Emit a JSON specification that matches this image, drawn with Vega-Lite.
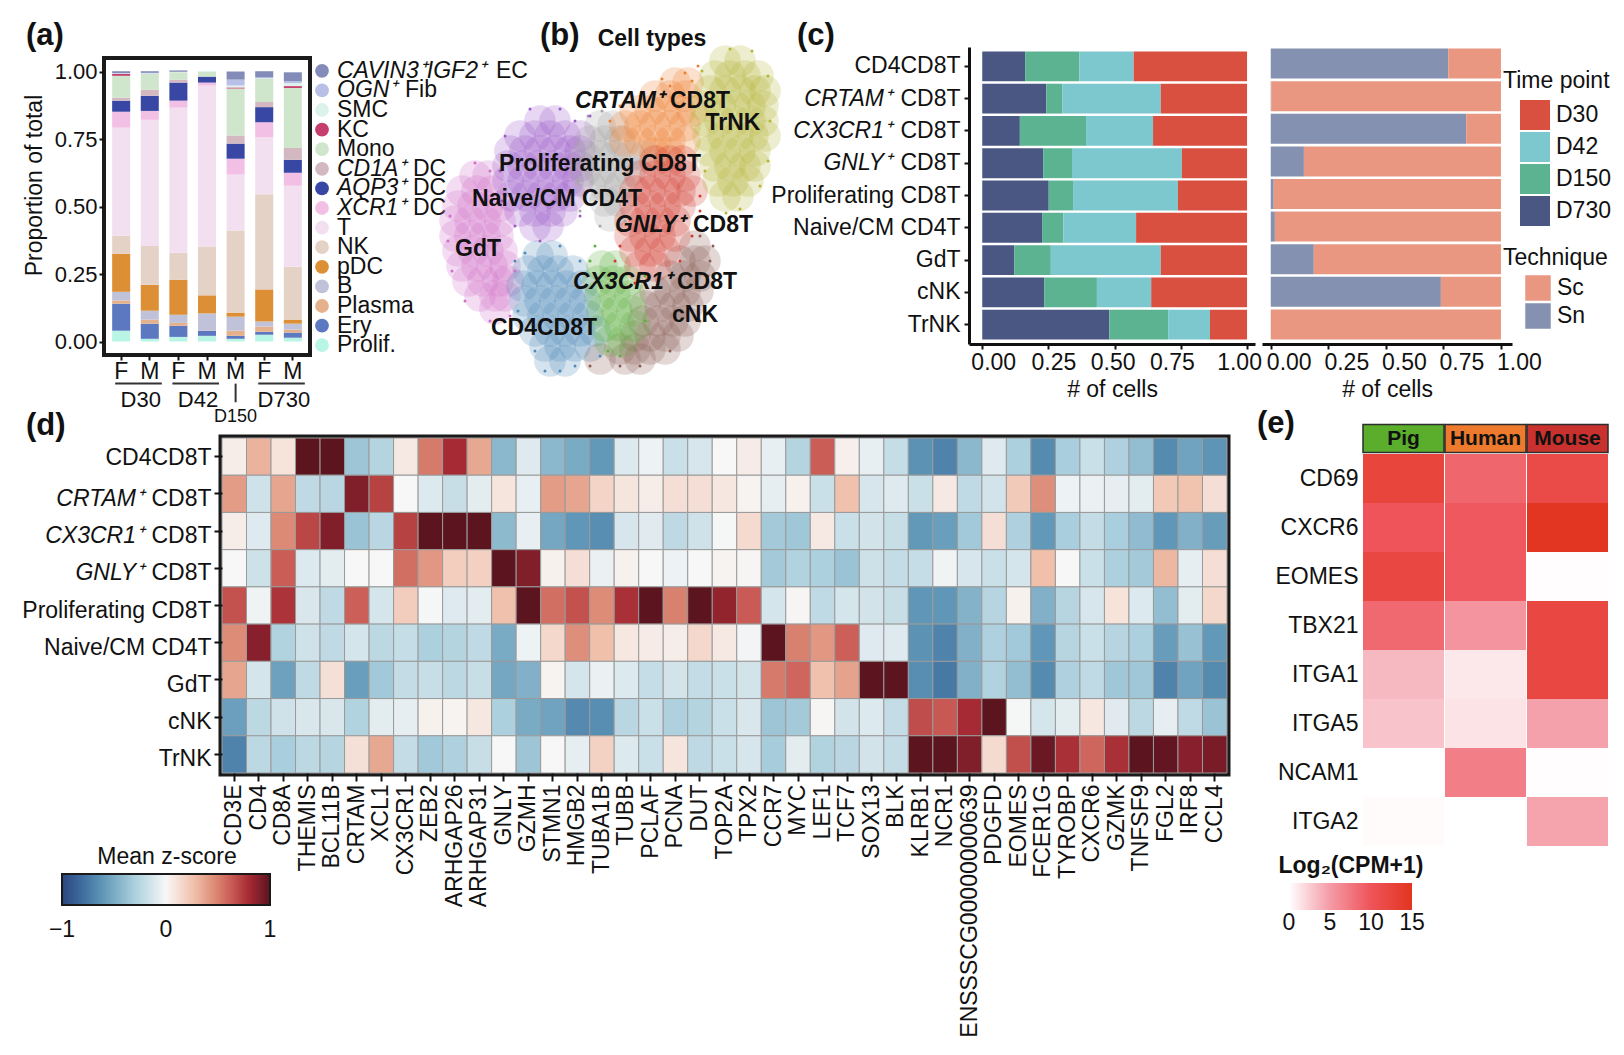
{"$schema":"https://vega.github.io/schema/vega-lite/v6.json","background":"white","padding":0,"config":{"font":"Liberation Sans","view":{"stroke":null},"axis":{"grid":false,"labelFontSize":23,"titleFontSize":23,"labelColor":"#111","titleColor":"#111","tickColor":"#111","domainColor":"#111","tickWidth":2,"tickSize":5,"titleFontWeight":"normal","labelLimit":500},"legend":{"labelFontSize":23,"titleFontSize":23,"titleFontWeight":"normal","labelColor":"#111","titleColor":"#111"},"title":{"fontSize":31,"fontWeight":"bold","anchor":"start","frame":"group","color":"#111"},"text":{"fontSize":23,"color":"#111"}},
"spacing":0,"bounds":"flush","resolve":{"scale":{"color":"independent","fill":"independent"},"legend":{"color":"independent","fill":"independent"}},
"vconcat":[
{"bounds":"flush","spacing":38,"resolve":{"scale":{"color":"independent"},"legend":{"color":"independent"}},"vconcat":[{"width":0,"height":0,"data":{"values":[]},"mark":"point"},{"bounds":"flush","spacing":84,"resolve":{"scale":{"color":"independent"},"legend":{"color":"independent"}},"hconcat":[{"width":0,"height":0,"data":{"values":[]},"mark":"point"},
{"width":206,"height":297,"view":{"stroke":"#1a1a1a","strokeWidth":4},"title":{"text":"(a)","dx":-78,"offset":6},
"layer":[
{"data":{"values":[
{"s":"D30 F","k":"Prolif.","o":0,"v":0.04},{"s":"D30 F","k":"Ery","o":1,"v":0.1},{"s":"D30 F","k":"Plasma","o":2,"v":0.012},{"s":"D30 F","k":"B","o":3,"v":0.032},{"s":"D30 F","k":"pDC","o":4,"v":0.141},{"s":"D30 F","k":"NK","o":5,"v":0.067},{"s":"D30 F","k":"T","o":6,"v":0.4},{"s":"D30 F","k":"XCR1⁺ DC","o":7,"v":0.059},{"s":"D30 F","k":"AQP3⁺ DC","o":8,"v":0.041},{"s":"D30 F","k":"CD1A⁺ DC","o":9,"v":0.011},{"s":"D30 F","k":"Mono","o":10,"v":0.081},{"s":"D30 F","k":"KC","o":11,"v":0.007},{"s":"D30 F","k":"SMC","o":12,"v":0.002},{"s":"D30 F","k":"OGN⁺ Fib","o":13,"v":0.001},{"s":"D30 F","k":"CAVIN3⁺IGF2⁺ EC","o":14,"v":0.007},
{"s":"D30 M","k":"Prolif.","o":0,"v":0.01},{"s":"D30 M","k":"Ery","o":1,"v":0.056},{"s":"D30 M","k":"Plasma","o":2,"v":0.015},{"s":"D30 M","k":"B","o":3,"v":0.033},{"s":"D30 M","k":"pDC","o":4,"v":0.096},{"s":"D30 M","k":"NK","o":5,"v":0.144},{"s":"D30 M","k":"T","o":6,"v":0.467},{"s":"D30 M","k":"XCR1⁺ DC","o":7,"v":0.033},{"s":"D30 M","k":"AQP3⁺ DC","o":8,"v":0.056},{"s":"D30 M","k":"CD1A⁺ DC","o":9,"v":0.022},{"s":"D30 M","k":"Mono","o":10,"v":0.059},{"s":"D30 M","k":"SMC","o":12,"v":0.002},{"s":"D30 M","k":"OGN⁺ Fib","o":13,"v":0.002},{"s":"D30 M","k":"CAVIN3⁺IGF2⁺ EC","o":14,"v":0.006},
{"s":"D42 F","k":"Prolif.","o":0,"v":0.017},{"s":"D42 F","k":"Ery","o":1,"v":0.041},{"s":"D42 F","k":"Plasma","o":2,"v":0.011},{"s":"D42 F","k":"B","o":3,"v":0.03},{"s":"D42 F","k":"pDC","o":4,"v":0.13},{"s":"D42 F","k":"NK","o":5,"v":0.1},{"s":"D42 F","k":"T","o":6,"v":0.537},{"s":"D42 F","k":"XCR1⁺ DC","o":7,"v":0.026},{"s":"D42 F","k":"AQP3⁺ DC","o":8,"v":0.067},{"s":"D42 F","k":"CD1A⁺ DC","o":9,"v":0.011},{"s":"D42 F","k":"Mono","o":10,"v":0.027},{"s":"D42 F","k":"SMC","o":12,"v":0.001},{"s":"D42 F","k":"OGN⁺ Fib","o":13,"v":0.001},{"s":"D42 F","k":"CAVIN3⁺IGF2⁺ EC","o":14,"v":0.005},
{"s":"D42 M","k":"Prolif.","o":0,"v":0.021},{"s":"D42 M","k":"Ery","o":1,"v":0.019},{"s":"D42 M","k":"Plasma","o":2,"v":0.001},{"s":"D42 M","k":"B","o":3,"v":0.063},{"s":"D42 M","k":"pDC","o":4,"v":0.067},{"s":"D42 M","k":"NK","o":5,"v":0.181},{"s":"D42 M","k":"T","o":6,"v":0.596},{"s":"D42 M","k":"XCR1⁺ DC","o":7,"v":0.011},{"s":"D42 M","k":"AQP3⁺ DC","o":8,"v":0.022},{"s":"D42 M","k":"Mono","o":10,"v":0.019},{"s":"D42 M","k":"SMC","o":12,"v":0.002},
{"s":"D150 M","k":"Prolif.","o":0,"v":0.01},{"s":"D150 M","k":"Ery","o":1,"v":0.011},{"s":"D150 M","k":"Plasma","o":2,"v":0.019},{"s":"D150 M","k":"B","o":3,"v":0.052},{"s":"D150 M","k":"pDC","o":4,"v":0.015},{"s":"D150 M","k":"NK","o":5,"v":0.304},{"s":"D150 M","k":"T","o":6,"v":0.207},{"s":"D150 M","k":"XCR1⁺ DC","o":7,"v":0.059},{"s":"D150 M","k":"AQP3⁺ DC","o":8,"v":0.056},{"s":"D150 M","k":"CD1A⁺ DC","o":9,"v":0.03},{"s":"D150 M","k":"Mono","o":10,"v":0.174},{"s":"D150 M","k":"KC","o":11,"v":0.004},{"s":"D150 M","k":"SMC","o":12,"v":0.007},{"s":"D150 M","k":"OGN⁺ Fib","o":13,"v":0.022},{"s":"D150 M","k":"CAVIN3⁺IGF2⁺ EC","o":14,"v":0.03},
{"s":"D730 F","k":"Prolif.","o":0,"v":0.025},{"s":"D730 F","k":"Ery","o":1,"v":0.011},{"s":"D730 F","k":"Plasma","o":2,"v":0.019},{"s":"D730 F","k":"B","o":3,"v":0.019},{"s":"D730 F","k":"pDC","o":4,"v":0.119},{"s":"D730 F","k":"NK","o":5,"v":0.352},{"s":"D730 F","k":"T","o":6,"v":0.211},{"s":"D730 F","k":"XCR1⁺ DC","o":7,"v":0.056},{"s":"D730 F","k":"AQP3⁺ DC","o":8,"v":0.056},{"s":"D730 F","k":"CD1A⁺ DC","o":9,"v":0.019},{"s":"D730 F","k":"Mono","o":10,"v":0.086},{"s":"D730 F","k":"SMC","o":12,"v":0.002},{"s":"D730 F","k":"OGN⁺ Fib","o":13,"v":0.003},{"s":"D730 F","k":"CAVIN3⁺IGF2⁺ EC","o":14,"v":0.023},
{"s":"D730 M","k":"Prolif.","o":0,"v":0.014},{"s":"D730 M","k":"Ery","o":1,"v":0.019},{"s":"D730 M","k":"Plasma","o":2,"v":0.011},{"s":"D730 M","k":"B","o":3,"v":0.022},{"s":"D730 M","k":"pDC","o":4,"v":0.015},{"s":"D730 M","k":"NK","o":5,"v":0.196},{"s":"D730 M","k":"T","o":6,"v":0.3},{"s":"D730 M","k":"XCR1⁺ DC","o":7,"v":0.048},{"s":"D730 M","k":"AQP3⁺ DC","o":8,"v":0.048},{"s":"D730 M","k":"CD1A⁺ DC","o":9,"v":0.044},{"s":"D730 M","k":"Mono","o":10,"v":0.222},{"s":"D730 M","k":"KC","o":11,"v":0.007},{"s":"D730 M","k":"SMC","o":12,"v":0.011},{"s":"D730 M","k":"OGN⁺ Fib","o":13,"v":0.007},{"s":"D730 M","k":"CAVIN3⁺IGF2⁺ EC","o":14,"v":0.033}
]},"mark":{"type":"bar"},"encoding":{"x":{"field":"s","type":"nominal","scale":{"domain":["D30 F","D30 M","D42 F","D42 M","D150 M","D730 F","D730 M"],"paddingInner":0.37,"paddingOuter":0.285},"axis":{"title":null,"labelAngle":0,"domain":false,"labelExpr":"split(datum.label,' ')[1]","labelPadding":0}},"y":{"field":"v","type":"quantitative","stack":"zero","scale":{"domain":[-0.05,1.05],"nice":false},"axis":{"title":"Proportion of total","titleY":127,"values":[0,0.25,0.5,0.75,1],"format":".2f","domain":false,"titlePadding":8,"labelFontSize":22}},"order":{"field":"o","type":"quantitative"},"color":{"field":"k","type":"nominal","legend":null,"scale":{"domain":["CAVIN3⁺IGF2⁺ EC","OGN⁺ Fib","SMC","KC","Mono","CD1A⁺ DC","AQP3⁺ DC","XCR1⁺ DC","T","NK","pDC","B","Plasma","Ery","Prolif."],"range":["#838BB8","#B8C0E8","#DCF3EC","#C63E6E","#CFE6CC","#D3B8C2","#3846A4","#F2C0E4","#F2E0F0","#E5D2C6","#DC8F35","#BFC2D8","#E5B08C","#5C78C0","#B8F5E4"]}}}},
{"data":{"values":[{"from":"D30 F","to":"D30 M"},{"from":"D42 F","to":"D42 M"},{"from":"D730 F","to":"D730 M"}]},"mark":{"type":"rule","stroke":"#333","strokeWidth":2,"xOffset":-6,"x2Offset":12},"encoding":{"x":{"field":"from","type":"nominal","title":null},"x2":{"field":"to"},"y":{"datum":-0.156,"type":"quantitative","title":null}}},
{"data":{"values":[{"s":"D150 M"}]},"mark":{"type":"rule","stroke":"#333","strokeWidth":2},"encoding":{"x":{"field":"s","type":"nominal","title":null},"y":{"datum":-0.156,"type":"quantitative","title":null},"y2":{"datum":-0.225}}},
{"data":{"values":[{"s":"D30 M","t":"D30"},{"s":"D42 M","t":"D42"},{"s":"D730 M","t":"D730"}]},"mark":{"type":"text","dx":-9,"baseline":"middle","fontSize":22},"encoding":{"x":{"field":"s","type":"nominal","title":null},"y":{"datum":-0.215,"type":"quantitative","title":null},"text":{"field":"t"}}},
{"data":{"values":[{"s":"D150 M","t":"D150"}]},"mark":{"type":"text","baseline":"middle","fontSize":18},"encoding":{"x":{"field":"s","type":"nominal","title":null},"y":{"datum":-0.281,"type":"quantitative","title":null},"text":{"field":"t"}}}
]}]}]},
{"bounds":"flush","spacing":41,"resolve":{"scale":{"color":"independent"},"legend":{"color":"independent"}},"vconcat":[{"width":0,"height":0,"data":{"values":[]},"mark":"point"},{"bounds":"flush","spacing":290,"resolve":{"scale":{"color":"independent"},"legend":{"color":"independent"}},"hconcat":[{"width":0,"height":0,"data":{"values":[]},"mark":"point"},
{"width":120,"height":294,"data":{"values":[{"k":"CAVIN3⁺IGF2⁺ EC","i":"CAVIN3⁺IGF2⁺","p":"EC"},{"k":"OGN⁺ Fib","i":"OGN⁺","p":"Fib"},{"k":"SMC","i":"","p":"SMC"},{"k":"KC","i":"","p":"KC"},{"k":"Mono","i":"","p":"Mono"},{"k":"CD1A⁺ DC","i":"CD1A⁺","p":"DC"},{"k":"AQP3⁺ DC","i":"AQP3⁺","p":"DC"},{"k":"XCR1⁺ DC","i":"XCR1⁺","p":"DC"},{"k":"T","i":"","p":"T"},{"k":"NK","i":"","p":"NK"},{"k":"pDC","i":"","p":"pDC"},{"k":"B","i":"","p":"B"},{"k":"Plasma","i":"","p":"Plasma"},{"k":"Ery","i":"","p":"Ery"},{"k":"Prolif.","i":"","p":"Prolif."}]},
"encoding":{"y":{"field":"k","type":"nominal","axis":null,"scale":{"domain":["CAVIN3⁺IGF2⁺ EC","OGN⁺ Fib","SMC","KC","Mono","CD1A⁺ DC","AQP3⁺ DC","XCR1⁺ DC","T","NK","pDC","B","Plasma","Ery","Prolif."],"paddingInner":0,"paddingOuter":0}}},
"layer":[
{"mark":{"type":"point","filled":true,"opacity":1,"size":190},"encoding":{"x":{"datum":12,"type":"quantitative","axis":null,"scale":{"domain":[0,120]}},"color":{"field":"k","type":"nominal","legend":null,"scale":{"domain":["CAVIN3⁺IGF2⁺ EC","OGN⁺ Fib","SMC","KC","Mono","CD1A⁺ DC","AQP3⁺ DC","XCR1⁺ DC","T","NK","pDC","B","Plasma","Ery","Prolif."],"range":["#838BB8","#B8C0E8","#DCF3EC","#C63E6E","#CFE6CC","#D3B8C2","#3846A4","#F2C0E4","#F2E0F0","#E5D2C6","#DC8F35","#BFC2D8","#E5B08C","#5C78C0","#B8F5E4"]}}}},
{"transform":[{"filter":"datum.i!==''"}],"mark":{"type":"text","align":"left","baseline":"middle","fontStyle":"italic"},"encoding":{"x":{"datum":27,"type":"quantitative","axis":null},"text":{"field":"i"}}},
{"transform":[{"filter":"datum.i===''"}],"mark":{"type":"text","align":"left","baseline":"middle"},"encoding":{"x":{"datum":27,"type":"quantitative","axis":null},"text":{"field":"p"}}},
{"transform":[{"filter":"datum.p==='EC'"}],"mark":{"type":"text","align":"left","baseline":"middle"},"encoding":{"x":{"datum":186,"type":"quantitative","axis":null},"text":{"field":"p"}}},
{"transform":[{"filter":"datum.p==='Fib'"}],"mark":{"type":"text","align":"left","baseline":"middle"},"encoding":{"x":{"datum":95,"type":"quantitative","axis":null},"text":{"field":"p"}}},
{"transform":[{"filter":"datum.p==='DC'"}],"mark":{"type":"text","align":"left","baseline":"middle"},"encoding":{"x":{"datum":103,"type":"quantitative","axis":null},"text":{"field":"p"}}}
]}]}]},
{"bounds":"flush","spacing":1,"resolve":{"scale":{"color":"independent"},"legend":{"color":"independent"}},"vconcat":[{"width":0,"height":0,"data":{"values":[]},"mark":"point"},{"bounds":"flush","spacing":410,"resolve":{"scale":{"color":"independent"},"legend":{"color":"independent"}},"hconcat":[{"width":0,"height":0,"data":{"values":[]},"mark":"point"},
{"width":340,"height":350,"title":{"text":"(b)","dx":110,"dy":31,"offset":0},
"layer":[
{"data":{"values":[
{"t":"GdT","u":45,"v":155},{"t":"GdT","u":58,"v":155},{"t":"GdT","u":32,"v":170},{"t":"GdT","u":47,"v":170},{"t":"GdT","u":62,"v":170},{"t":"GdT","u":28,"v":185},{"t":"GdT","u":43,"v":185},{"t":"GdT","u":58,"v":185},{"t":"GdT","u":70,"v":185},{"t":"GdT","u":25,"v":200},{"t":"GdT","u":40,"v":200},{"t":"GdT","u":55,"v":200},{"t":"GdT","u":70,"v":200},{"t":"GdT","u":25,"v":215},{"t":"GdT","u":40,"v":215},{"t":"GdT","u":55,"v":215},{"t":"GdT","u":68,"v":215},{"t":"GdT","u":28,"v":230},{"t":"GdT","u":43,"v":230},{"t":"GdT","u":58,"v":230},{"t":"GdT","u":72,"v":230},{"t":"GdT","u":32,"v":245},{"t":"GdT","u":47,"v":245},{"t":"GdT","u":62,"v":245},{"t":"GdT","u":75,"v":245},{"t":"GdT","u":38,"v":260},{"t":"GdT","u":53,"v":260},{"t":"GdT","u":68,"v":260},{"t":"GdT","u":78,"v":260},{"t":"GdT","u":50,"v":275},{"t":"GdT","u":65,"v":275},{"t":"GdT","u":75,"v":275},{"t":"GdT","u":65,"v":288},
{"t":"Naive/CM CD4T","u":110,"v":100},{"t":"Naive/CM CD4T","u":125,"v":100},{"t":"Naive/CM CD4T","u":90,"v":115},{"t":"Naive/CM CD4T","u":105,"v":115},{"t":"Naive/CM CD4T","u":120,"v":115},{"t":"Naive/CM CD4T","u":135,"v":115},{"t":"Naive/CM CD4T","u":150,"v":115},{"t":"Naive/CM CD4T","u":80,"v":130},{"t":"Naive/CM CD4T","u":95,"v":130},{"t":"Naive/CM CD4T","u":110,"v":130},{"t":"Naive/CM CD4T","u":125,"v":130},{"t":"Naive/CM CD4T","u":140,"v":130},{"t":"Naive/CM CD4T","u":150,"v":130},{"t":"Naive/CM CD4T","u":78,"v":145},{"t":"Naive/CM CD4T","u":93,"v":145},{"t":"Naive/CM CD4T","u":108,"v":145},{"t":"Naive/CM CD4T","u":123,"v":145},{"t":"Naive/CM CD4T","u":138,"v":145},{"t":"Naive/CM CD4T","u":150,"v":145},{"t":"Naive/CM CD4T","u":78,"v":160},{"t":"Naive/CM CD4T","u":93,"v":160},{"t":"Naive/CM CD4T","u":108,"v":160},{"t":"Naive/CM CD4T","u":123,"v":160},{"t":"Naive/CM CD4T","u":138,"v":160},{"t":"Naive/CM CD4T","u":148,"v":160},{"t":"Naive/CM CD4T","u":82,"v":175},{"t":"Naive/CM CD4T","u":97,"v":175},{"t":"Naive/CM CD4T","u":112,"v":175},{"t":"Naive/CM CD4T","u":127,"v":175},{"t":"Naive/CM CD4T","u":140,"v":175},{"t":"Naive/CM CD4T","u":90,"v":190},{"t":"Naive/CM CD4T","u":105,"v":190},{"t":"Naive/CM CD4T","u":120,"v":190},{"t":"Naive/CM CD4T","u":132,"v":190},{"t":"Naive/CM CD4T","u":105,"v":205},{"t":"Naive/CM CD4T","u":118,"v":205},
{"t":"CD4CD8T","u":108,"v":235},{"t":"CD4CD8T","u":122,"v":235},{"t":"CD4CD8T","u":98,"v":250},{"t":"CD4CD8T","u":113,"v":250},{"t":"CD4CD8T","u":128,"v":250},{"t":"CD4CD8T","u":143,"v":250},{"t":"CD4CD8T","u":92,"v":265},{"t":"CD4CD8T","u":107,"v":265},{"t":"CD4CD8T","u":122,"v":265},{"t":"CD4CD8T","u":137,"v":265},{"t":"CD4CD8T","u":152,"v":265},{"t":"CD4CD8T","u":95,"v":280},{"t":"CD4CD8T","u":110,"v":280},{"t":"CD4CD8T","u":125,"v":280},{"t":"CD4CD8T","u":140,"v":280},{"t":"CD4CD8T","u":155,"v":280},{"t":"CD4CD8T","u":98,"v":295},{"t":"CD4CD8T","u":113,"v":295},{"t":"CD4CD8T","u":128,"v":295},{"t":"CD4CD8T","u":143,"v":295},{"t":"CD4CD8T","u":158,"v":295},{"t":"CD4CD8T","u":105,"v":310},{"t":"CD4CD8T","u":120,"v":310},{"t":"CD4CD8T","u":135,"v":310},{"t":"CD4CD8T","u":150,"v":310},{"t":"CD4CD8T","u":165,"v":310},{"t":"CD4CD8T","u":115,"v":325},{"t":"CD4CD8T","u":130,"v":325},{"t":"CD4CD8T","u":145,"v":325},{"t":"CD4CD8T","u":160,"v":325},{"t":"CD4CD8T","u":120,"v":340},{"t":"CD4CD8T","u":135,"v":340},
{"t":"cNK","u":265,"v":225},{"t":"cNK","u":250,"v":240},{"t":"cNK","u":265,"v":240},{"t":"cNK","u":275,"v":240},{"t":"cNK","u":240,"v":255},{"t":"cNK","u":255,"v":255},{"t":"cNK","u":270,"v":255},{"t":"cNK","u":225,"v":270},{"t":"cNK","u":240,"v":270},{"t":"cNK","u":255,"v":270},{"t":"cNK","u":268,"v":270},{"t":"cNK","u":215,"v":285},{"t":"cNK","u":230,"v":285},{"t":"cNK","u":245,"v":285},{"t":"cNK","u":258,"v":285},{"t":"cNK","u":213,"v":300},{"t":"cNK","u":228,"v":300},{"t":"cNK","u":243,"v":300},{"t":"cNK","u":255,"v":300},{"t":"cNK","u":205,"v":315},{"t":"cNK","u":220,"v":315},{"t":"cNK","u":235,"v":315},{"t":"cNK","u":248,"v":315},{"t":"cNK","u":190,"v":328},{"t":"cNK","u":205,"v":328},{"t":"cNK","u":220,"v":328},{"t":"cNK","u":235,"v":328},{"t":"cNK","u":170,"v":338},{"t":"cNK","u":195,"v":338},{"t":"cNK","u":210,"v":338},
{"t":"CX3CR1⁺ CD8T","u":172,"v":245},{"t":"CX3CR1⁺ CD8T","u":185,"v":245},{"t":"CX3CR1⁺ CD8T","u":168,"v":260},{"t":"CX3CR1⁺ CD8T","u":183,"v":260},{"t":"CX3CR1⁺ CD8T","u":198,"v":260},{"t":"CX3CR1⁺ CD8T","u":170,"v":275},{"t":"CX3CR1⁺ CD8T","u":185,"v":275},{"t":"CX3CR1⁺ CD8T","u":200,"v":275},{"t":"CX3CR1⁺ CD8T","u":172,"v":290},{"t":"CX3CR1⁺ CD8T","u":187,"v":290},{"t":"CX3CR1⁺ CD8T","u":202,"v":290},{"t":"CX3CR1⁺ CD8T","u":175,"v":305},{"t":"CX3CR1⁺ CD8T","u":190,"v":305},{"t":"CX3CR1⁺ CD8T","u":205,"v":305},{"t":"CX3CR1⁺ CD8T","u":180,"v":320},{"t":"CX3CR1⁺ CD8T","u":193,"v":320},
{"t":"Proliferating CD8T","u":170,"v":105},{"t":"Proliferating CD8T","u":183,"v":105},{"t":"Proliferating CD8T","u":160,"v":120},{"t":"Proliferating CD8T","u":175,"v":120},{"t":"Proliferating CD8T","u":190,"v":120},{"t":"Proliferating CD8T","u":155,"v":135},{"t":"Proliferating CD8T","u":170,"v":135},{"t":"Proliferating CD8T","u":185,"v":135},{"t":"Proliferating CD8T","u":200,"v":135},{"t":"Proliferating CD8T","u":215,"v":135},{"t":"Proliferating CD8T","u":155,"v":150},{"t":"Proliferating CD8T","u":170,"v":150},{"t":"Proliferating CD8T","u":185,"v":150},{"t":"Proliferating CD8T","u":200,"v":150},{"t":"Proliferating CD8T","u":160,"v":165},{"t":"Proliferating CD8T","u":175,"v":165},{"t":"Proliferating CD8T","u":190,"v":165},{"t":"Proliferating CD8T","u":175,"v":180},{"t":"Proliferating CD8T","u":188,"v":180},{"t":"Proliferating CD8T","u":180,"v":195},
{"t":"CRTAM⁺ CD8T","u":245,"v":62},{"t":"CRTAM⁺ CD8T","u":258,"v":62},{"t":"CRTAM⁺ CD8T","u":225,"v":75},{"t":"CRTAM⁺ CD8T","u":240,"v":75},{"t":"CRTAM⁺ CD8T","u":255,"v":75},{"t":"CRTAM⁺ CD8T","u":205,"v":90},{"t":"CRTAM⁺ CD8T","u":220,"v":90},{"t":"CRTAM⁺ CD8T","u":235,"v":90},{"t":"CRTAM⁺ CD8T","u":250,"v":90},{"t":"CRTAM⁺ CD8T","u":262,"v":90},{"t":"CRTAM⁺ CD8T","u":195,"v":105},{"t":"CRTAM⁺ CD8T","u":210,"v":105},{"t":"CRTAM⁺ CD8T","u":225,"v":105},{"t":"CRTAM⁺ CD8T","u":240,"v":105},{"t":"CRTAM⁺ CD8T","u":255,"v":105},{"t":"CRTAM⁺ CD8T","u":195,"v":120},{"t":"CRTAM⁺ CD8T","u":210,"v":120},{"t":"CRTAM⁺ CD8T","u":225,"v":120},{"t":"CRTAM⁺ CD8T","u":240,"v":120},{"t":"CRTAM⁺ CD8T","u":255,"v":120},{"t":"CRTAM⁺ CD8T","u":225,"v":132},{"t":"CRTAM⁺ CD8T","u":240,"v":132},
{"t":"GNLY⁺ CD8T","u":225,"v":140},{"t":"GNLY⁺ CD8T","u":240,"v":140},{"t":"GNLY⁺ CD8T","u":252,"v":140},{"t":"GNLY⁺ CD8T","u":210,"v":155},{"t":"GNLY⁺ CD8T","u":225,"v":155},{"t":"GNLY⁺ CD8T","u":240,"v":155},{"t":"GNLY⁺ CD8T","u":255,"v":155},{"t":"GNLY⁺ CD8T","u":205,"v":170},{"t":"GNLY⁺ CD8T","u":220,"v":170},{"t":"GNLY⁺ CD8T","u":235,"v":170},{"t":"GNLY⁺ CD8T","u":250,"v":170},{"t":"GNLY⁺ CD8T","u":262,"v":170},{"t":"GNLY⁺ CD8T","u":205,"v":185},{"t":"GNLY⁺ CD8T","u":220,"v":185},{"t":"GNLY⁺ CD8T","u":235,"v":185},{"t":"GNLY⁺ CD8T","u":250,"v":185},{"t":"GNLY⁺ CD8T","u":200,"v":200},{"t":"GNLY⁺ CD8T","u":215,"v":200},{"t":"GNLY⁺ CD8T","u":230,"v":200},{"t":"GNLY⁺ CD8T","u":245,"v":200},{"t":"GNLY⁺ CD8T","u":200,"v":215},{"t":"GNLY⁺ CD8T","u":215,"v":215},{"t":"GNLY⁺ CD8T","u":230,"v":215},{"t":"GNLY⁺ CD8T","u":245,"v":215},{"t":"GNLY⁺ CD8T","u":205,"v":230},{"t":"GNLY⁺ CD8T","u":220,"v":230},{"t":"GNLY⁺ CD8T","u":235,"v":230},{"t":"GNLY⁺ CD8T","u":210,"v":245},{"t":"GNLY⁺ CD8T","u":225,"v":245},
{"t":"TrNK","u":295,"v":40},{"t":"TrNK","u":310,"v":40},{"t":"TrNK","u":285,"v":55},{"t":"TrNK","u":300,"v":55},{"t":"TrNK","u":315,"v":55},{"t":"TrNK","u":328,"v":55},{"t":"TrNK","u":280,"v":70},{"t":"TrNK","u":295,"v":70},{"t":"TrNK","u":310,"v":70},{"t":"TrNK","u":325,"v":70},{"t":"TrNK","u":335,"v":70},{"t":"TrNK","u":275,"v":85},{"t":"TrNK","u":290,"v":85},{"t":"TrNK","u":305,"v":85},{"t":"TrNK","u":320,"v":85},{"t":"TrNK","u":333,"v":85},{"t":"TrNK","u":275,"v":100},{"t":"TrNK","u":290,"v":100},{"t":"TrNK","u":305,"v":100},{"t":"TrNK","u":320,"v":100},{"t":"TrNK","u":333,"v":100},{"t":"TrNK","u":278,"v":115},{"t":"TrNK","u":293,"v":115},{"t":"TrNK","u":308,"v":115},{"t":"TrNK","u":323,"v":115},{"t":"TrNK","u":335,"v":115},{"t":"TrNK","u":280,"v":130},{"t":"TrNK","u":295,"v":130},{"t":"TrNK","u":310,"v":130},{"t":"TrNK","u":325,"v":130},{"t":"TrNK","u":285,"v":145},{"t":"TrNK","u":300,"v":145},{"t":"TrNK","u":315,"v":145},{"t":"TrNK","u":325,"v":145},{"t":"TrNK","u":288,"v":160},{"t":"TrNK","u":303,"v":160},{"t":"TrNK","u":318,"v":160},{"t":"TrNK","u":295,"v":175},{"t":"TrNK","u":308,"v":175}
]},"mark":{"type":"circle","size":1000,"opacity":0.24},"encoding":{"x":{"field":"u","type":"quantitative","axis":null,"scale":{"domain":[0,340],"nice":false}},"y":{"field":"v","type":"quantitative","axis":null,"scale":{"domain":[0,350],"reverse":true,"nice":false}},"color":{"field":"t","type":"nominal","legend":null,"scale":{"domain":["CD4CD8T","CRTAM⁺ CD8T","CX3CR1⁺ CD8T","GNLY⁺ CD8T","Proliferating CD8T","Naive/CM CD4T","GdT","cNK","TrNK"],"range":["#4F8BB8","#EE7F2D","#5DB03E","#D0392F","#A5A5A5","#9B59C9","#CF6FC8","#8C5B52","#B5B535"]}}}},
{"data":{"values":[
{"t":"TrNK","u":300,"v":28},{"t":"TrNK","u":322,"v":30},{"t":"TrNK","u":338,"v":55},{"t":"TrNK","u":340,"v":100},{"t":"TrNK","u":338,"v":140},{"t":"TrNK","u":330,"v":165},{"t":"TrNK","u":310,"v":188},{"t":"TrNK","u":296,"v":192},{"t":"TrNK","u":275,"v":150},{"t":"TrNK","u":272,"v":50},
{"t":"CRTAM⁺ CD8T","u":268,"v":45},{"t":"CRTAM⁺ CD8T","u":255,"v":52},{"t":"CRTAM⁺ CD8T","u":232,"v":58},{"t":"CRTAM⁺ CD8T","u":210,"v":75},{"t":"CRTAM⁺ CD8T","u":190,"v":85},{"t":"CRTAM⁺ CD8T","u":262,"v":60},{"t":"CRTAM⁺ CD8T","u":180,"v":100},{"t":"CRTAM⁺ CD8T","u":240,"v":65},
{"t":"Proliferating CD8T","u":158,"v":95},{"t":"Proliferating CD8T","u":172,"v":90},{"t":"Proliferating CD8T","u":148,"v":160},{"t":"Proliferating CD8T","u":150,"v":190},{"t":"Proliferating CD8T","u":170,"v":205},{"t":"Proliferating CD8T","u":195,"v":200},
{"t":"GNLY⁺ CD8T","u":270,"v":190},{"t":"GNLY⁺ CD8T","u":262,"v":215},{"t":"GNLY⁺ CD8T","u":250,"v":240},{"t":"GNLY⁺ CD8T","u":205,"v":262},{"t":"GNLY⁺ CD8T","u":185,"v":240},{"t":"GNLY⁺ CD8T","u":190,"v":225},{"t":"GNLY⁺ CD8T","u":270,"v":175},
{"t":"Naive/CM CD4T","u":100,"v":88},{"t":"Naive/CM CD4T","u":130,"v":88},{"t":"Naive/CM CD4T","u":160,"v":95},{"t":"Naive/CM CD4T","u":70,"v":150},{"t":"Naive/CM CD4T","u":72,"v":180},{"t":"Naive/CM CD4T","u":85,"v":205},{"t":"Naive/CM CD4T","u":110,"v":220},{"t":"Naive/CM CD4T","u":150,"v":195},{"t":"Naive/CM CD4T","u":75,"v":115},{"t":"Naive/CM CD4T","u":145,"v":100},
{"t":"GdT","u":45,"v":142},{"t":"GdT","u":20,"v":195},{"t":"GdT","u":18,"v":220},{"t":"GdT","u":22,"v":250},{"t":"GdT","u":35,"v":280},{"t":"GdT","u":60,"v":300},{"t":"GdT","u":80,"v":295},{"t":"GdT","u":85,"v":250},{"t":"GdT","u":60,"v":150},
{"t":"CD4CD8T","u":85,"v":240},{"t":"CD4CD8T","u":95,"v":232},{"t":"CD4CD8T","u":130,"v":225},{"t":"CD4CD8T","u":150,"v":240},{"t":"CD4CD8T","u":88,"v":290},{"t":"CD4CD8T","u":105,"v":330},{"t":"CD4CD8T","u":115,"v":350},{"t":"CD4CD8T","u":130,"v":350},{"t":"CD4CD8T","u":145,"v":345},{"t":"CD4CD8T","u":170,"v":335},
{"t":"CX3CR1⁺ CD8T","u":165,"v":225},{"t":"CX3CR1⁺ CD8T","u":215,"v":255},{"t":"CX3CR1⁺ CD8T","u":215,"v":300},{"t":"CX3CR1⁺ CD8T","u":190,"v":335},{"t":"CX3CR1⁺ CD8T","u":178,"v":330},{"t":"CX3CR1⁺ CD8T","u":160,"v":240},
{"t":"cNK","u":283,"v":225},{"t":"cNK","u":278,"v":255},{"t":"cNK","u":270,"v":300},{"t":"cNK","u":262,"v":290},{"t":"cNK","u":240,"v":330},{"t":"cNK","u":210,"v":345},{"t":"cNK","u":190,"v":345},{"t":"cNK","u":160,"v":345},{"t":"cNK","u":280,"v":240},{"t":"cNK","u":270,"v":215}
]},"mark":{"type":"circle","size":9,"opacity":1},"encoding":{"x":{"field":"u","type":"quantitative","axis":null},"y":{"field":"v","type":"quantitative","axis":null},"color":{"field":"t","type":"nominal","legend":null}}},
{"data":{"values":[{"l":"Cell types","u":222,"v":18},{"l":"TrNK","u":303,"v":102},{"l":"Proliferating CD8T","u":170,"v":143},{"l":"Naive/CM CD4T","u":127,"v":178},{"l":"GdT","u":48,"v":228},{"l":"cNK","u":265,"v":294},{"l":"CD4CD8T","u":114,"v":307}]},"mark":{"type":"text","fontWeight":"bold","baseline":"middle"},"encoding":{"x":{"field":"u","type":"quantitative","axis":null},"y":{"field":"v","type":"quantitative","axis":null},"text":{"field":"l"}}},
{"data":{"values":[{"l":"CRTAM⁺","u":145,"v":80},{"l":"GNLY⁺","u":185,"v":204},{"l":"CX3CR1⁺","u":143,"v":261}]},"mark":{"type":"text","fontWeight":"bold","fontStyle":"italic","align":"left","baseline":"middle"},"encoding":{"x":{"field":"u","type":"quantitative","axis":null},"y":{"field":"v","type":"quantitative","axis":null},"text":{"field":"l"}}},
{"data":{"values":[{"l":"CD8T","u":240,"v":80},{"l":"CD8T","u":263,"v":204},{"l":"CD8T","u":247,"v":261}]},"mark":{"type":"text","fontWeight":"bold","align":"left","baseline":"middle"},"encoding":{"x":{"field":"u","type":"quantitative","axis":null},"y":{"field":"v","type":"quantitative","axis":null},"text":{"field":"l"}}}
]}]}]},
{"bounds":"flush","spacing":27,"resolve":{"scale":{"color":"independent"},"legend":{"color":"independent"}},"vconcat":[{"width":0,"height":0,"data":{"values":[]},"mark":"point"},{"bounds":"flush","spacing":949,"resolve":{"scale":{"color":"independent"},"legend":{"color":"independent"}},"hconcat":[{"width":0,"height":0,"data":{"values":[]},"mark":"point"},
{"width":286,"height":297,"title":{"text":"(c)","dx":-172,"dy":5,"offset":0},
"layer":[
{"data":{"values":[
{"c":"CD4CD8T","t":"D730","o":0,"v":0.162},{"c":"CD4CD8T","t":"D150","o":1,"v":0.205},{"c":"CD4CD8T","t":"D42","o":2,"v":0.205},{"c":"CD4CD8T","t":"D30","o":3,"v":0.428},
{"c":"CRTAM⁺ CD8T","t":"D730","o":0,"v":0.242},{"c":"CRTAM⁺ CD8T","t":"D150","o":1,"v":0.06},{"c":"CRTAM⁺ CD8T","t":"D42","o":2,"v":0.372},{"c":"CRTAM⁺ CD8T","t":"D30","o":3,"v":0.326},
{"c":"CX3CR1⁺ CD8T","t":"D730","o":0,"v":0.142},{"c":"CX3CR1⁺ CD8T","t":"D150","o":1,"v":0.25},{"c":"CX3CR1⁺ CD8T","t":"D42","o":2,"v":0.253},{"c":"CX3CR1⁺ CD8T","t":"D30","o":3,"v":0.355},
{"c":"GNLY⁺ CD8T","t":"D730","o":0,"v":0.23},{"c":"GNLY⁺ CD8T","t":"D150","o":1,"v":0.109},{"c":"GNLY⁺ CD8T","t":"D42","o":2,"v":0.415},{"c":"GNLY⁺ CD8T","t":"D30","o":3,"v":0.246},
{"c":"Proliferating CD8T","t":"D730","o":0,"v":0.251},{"c":"Proliferating CD8T","t":"D150","o":1,"v":0.092},{"c":"Proliferating CD8T","t":"D42","o":2,"v":0.396},{"c":"Proliferating CD8T","t":"D30","o":3,"v":0.261},
{"c":"Naive/CM CD4T","t":"D730","o":0,"v":0.226},{"c":"Naive/CM CD4T","t":"D150","o":1,"v":0.08},{"c":"Naive/CM CD4T","t":"D42","o":2,"v":0.275},{"c":"Naive/CM CD4T","t":"D30","o":3,"v":0.419},
{"c":"GdT","t":"D730","o":0,"v":0.121},{"c":"GdT","t":"D150","o":1,"v":0.138},{"c":"GdT","t":"D42","o":2,"v":0.415},{"c":"GdT","t":"D30","o":3,"v":0.326},
{"c":"cNK","t":"D730","o":0,"v":0.234},{"c":"cNK","t":"D150","o":1,"v":0.199},{"c":"cNK","t":"D42","o":2,"v":0.205},{"c":"cNK","t":"D30","o":3,"v":0.362},
{"c":"TrNK","t":"D730","o":0,"v":0.48},{"c":"TrNK","t":"D150","o":1,"v":0.222},{"c":"TrNK","t":"D42","o":2,"v":0.158},{"c":"TrNK","t":"D30","o":3,"v":0.14}
]},"mark":{"type":"bar"},"encoding":{"y":{"field":"c","type":"nominal","scale":{"domain":["CD4CD8T","CRTAM⁺ CD8T","CX3CR1⁺ CD8T","GNLY⁺ CD8T","Proliferating CD8T","Naive/CM CD4T","GdT","cNK","TrNK"],"paddingInner":0.075,"paddingOuter":0.1375},"axis":{"title":null,"domainWidth":3,"labelExpr":"replace(datum.label,regexp('^(CRTAM|CX3CR1|GNLY)⁺ '),'')","labelPadding":4}},"x":{"field":"v","type":"quantitative","stack":"zero","scale":{"domain":[-0.05,1.03],"nice":false},"axis":{"title":"# of cells","values":[0,0.25,0.5,0.75,1],"format":".2f","domainWidth":3,"titlePadding":4,"labelOffset":{"condition":[{"test":"datum.value==0","value":11},{"test":"datum.value==0.25","value":5},{"test":"datum.value==0.75","value":-9},{"test":"datum.value==1","value":-8}],"value":-2}}},"order":{"field":"o","type":"quantitative"},"color":{"field":"t","type":"nominal","scale":{"domain":["D30","D42","D150","D730"],"range":["#D94F40","#7CC8CE","#5BB391","#4A5783"]},"legend":{"title":"Time point","orient":"none","legendX":534,"legendY":23,"symbolType":"square","symbolSize":900,"symbolOffset":17,"rowPadding":2,"labelOffset":6,"titlePadding":7,"symbolStrokeWidth":0}}}},
{"data":{"values":[{"c":"CRTAM⁺ CD8T","it":"CRTAM⁺"},{"c":"CX3CR1⁺ CD8T","it":"CX3CR1⁺"},{"c":"GNLY⁺ CD8T","it":"GNLY⁺"}]},"mark":{"type":"text","align":"right","baseline":"middle","fontStyle":"italic","dx":-77},"encoding":{"y":{"field":"c","type":"nominal","title":null},"x":{"datum":-0.05,"type":"quantitative","title":null},"text":{"field":"it"}}}
]}]}]},
{"bounds":"flush","spacing":24,"resolve":{"scale":{"color":"independent"},"legend":{"color":"independent"}},"vconcat":[{"width":0,"height":0,"data":{"values":[]},"mark":"point"},{"bounds":"flush","spacing":1242,"resolve":{"scale":{"color":"independent"},"legend":{"color":"independent"}},"hconcat":[{"width":0,"height":0,"data":{"values":[]},"mark":"point"},
{"width":250,"height":300,"data":{"values":[
{"c":"CD4CD8T","t":"Sn","o":0,"v":0.771},{"c":"CD4CD8T","t":"Sc","o":1,"v":0.229},{"c":"CRTAM⁺ CD8T","t":"Sn","o":0,"v":0.002},{"c":"CRTAM⁺ CD8T","t":"Sc","o":1,"v":0.998},{"c":"CX3CR1⁺ CD8T","t":"Sn","o":0,"v":0.849},{"c":"CX3CR1⁺ CD8T","t":"Sc","o":1,"v":0.151},{"c":"GNLY⁺ CD8T","t":"Sn","o":0,"v":0.144},{"c":"GNLY⁺ CD8T","t":"Sc","o":1,"v":0.856},{"c":"Proliferating CD8T","t":"Sn","o":0,"v":0.013},{"c":"Proliferating CD8T","t":"Sc","o":1,"v":0.987},{"c":"Naive/CM CD4T","t":"Sn","o":0,"v":0.018},{"c":"Naive/CM CD4T","t":"Sc","o":1,"v":0.982},{"c":"GdT","t":"Sn","o":0,"v":0.187},{"c":"GdT","t":"Sc","o":1,"v":0.813},{"c":"cNK","t":"Sn","o":0,"v":0.739},{"c":"cNK","t":"Sc","o":1,"v":0.261},{"c":"TrNK","t":"Sn","o":0,"v":0},{"c":"TrNK","t":"Sc","o":1,"v":1}
]},"mark":{"type":"bar"},"encoding":{"y":{"field":"c","type":"nominal","axis":null,"scale":{"domain":["CD4CD8T","CRTAM⁺ CD8T","CX3CR1⁺ CD8T","GNLY⁺ CD8T","Proliferating CD8T","Naive/CM CD4T","GdT","cNK","TrNK"],"paddingInner":0.08,"paddingOuter":0.14}},"x":{"field":"v","type":"quantitative","stack":"zero","scale":{"domain":[-0.038,1.048],"nice":false},"axis":{"title":"# of cells","values":[0,0.25,0.5,0.75,1],"format":".2f","domainWidth":3,"titlePadding":4,"labelOffset":18}},"order":{"field":"o","type":"quantitative"},"color":{"field":"t","type":"nominal","scale":{"domain":["Sc","Sn"],"range":["#EA9782","#8591B0"]},"legend":{"title":"Technique","orient":"none","legendX":241,"legendY":203,"symbolType":"square","symbolSize":650,"symbolOffset":22,"rowPadding":2,"labelOffset":6,"titlePadding":5,"symbolStrokeWidth":0}}}}]}]},
{"bounds":"flush","spacing":418,"resolve":{"scale":{"color":"independent"},"legend":{"color":"independent"}},"vconcat":[{"width":0,"height":0,"data":{"values":[]},"mark":"point"},{"bounds":"flush","spacing":202,"resolve":{"scale":{"color":"independent"},"legend":{"color":"independent"}},"hconcat":[{"width":0,"height":0,"data":{"values":[]},"mark":"point"},
{"width":1005,"height":335,"view":{"stroke":"#1a1a1a","strokeWidth":7},"title":{"text":"(d)","dx":-196,"dy":4,"offset":0},
"layer":[
{"data":{"values":[
{"g":"CD3E","c":"CD4CD8T","z":0.05},{"g":"CD4","c":"CD4CD8T","z":0.32},{"g":"CD8A","c":"CD4CD8T","z":0.1},{"g":"THEMIS","c":"CD4CD8T","z":1},{"g":"BCL11B","c":"CD4CD8T","z":1},{"g":"CRTAM","c":"CD4CD8T","z":-0.36},{"g":"XCL1","c":"CD4CD8T","z":-0.27},{"g":"CX3CR1","c":"CD4CD8T","z":0.07},{"g":"ZEB2","c":"CD4CD8T","z":0.52},{"g":"ARHGAP26","c":"CD4CD8T","z":0.8},{"g":"ARHGAP31","c":"CD4CD8T","z":0.36},{"g":"GNLY","c":"CD4CD8T","z":-0.43},{"g":"GZMH","c":"CD4CD8T","z":-0.1},{"g":"STMN1","c":"CD4CD8T","z":-0.43},{"g":"HMGB2","c":"CD4CD8T","z":-0.5},{"g":"TUBA1B","c":"CD4CD8T","z":-0.6},{"g":"TUBB","c":"CD4CD8T","z":-0.11},{"g":"PCLAF","c":"CD4CD8T","z":-0.04},{"g":"PCNA","c":"CD4CD8T","z":-0.18},{"g":"DUT","c":"CD4CD8T","z":-0.13},{"g":"TOP2A","c":"CD4CD8T","z":0},{"g":"TPX2","c":"CD4CD8T","z":0.06},{"g":"CCR7","c":"CD4CD8T","z":-0.06},{"g":"MYC","c":"CD4CD8T","z":-0.27},{"g":"LEF1","c":"CD4CD8T","z":0.62},{"g":"TCF7","c":"CD4CD8T","z":0.04},{"g":"SOX13","c":"CD4CD8T","z":-0.06},{"g":"BLK","c":"CD4CD8T","z":-0.2},{"g":"KLRB1","c":"CD4CD8T","z":-0.63},{"g":"NCR1","c":"CD4CD8T","z":-0.7},{"g":"ENSSSCG00000000639","c":"CD4CD8T","z":-0.43},{"g":"PDGFD","c":"CD4CD8T","z":-0.1},{"g":"EOMES","c":"CD4CD8T","z":-0.3},{"g":"FCER1G","c":"CD4CD8T","z":-0.66},{"g":"TYROBP","c":"CD4CD8T","z":-0.31},{"g":"CXCR6","c":"CD4CD8T","z":-0.18},{"g":"GZMK","c":"CD4CD8T","z":-0.29},{"g":"TNFSF9","c":"CD4CD8T","z":-0.4},{"g":"FGL2","c":"CD4CD8T","z":-0.66},{"g":"IRF8","c":"CD4CD8T","z":-0.54},{"g":"CCL4","c":"CD4CD8T","z":-0.62},
{"g":"CD3E","c":"CRTAM⁺ CD8T","z":0.4},{"g":"CD4","c":"CRTAM⁺ CD8T","z":-0.16},{"g":"CD8A","c":"CRTAM⁺ CD8T","z":0.37},{"g":"THEMIS","c":"CRTAM⁺ CD8T","z":-0.22},{"g":"BCL11B","c":"CRTAM⁺ CD8T","z":-0.25},{"g":"CRTAM","c":"CRTAM⁺ CD8T","z":0.9},{"g":"XCL1","c":"CRTAM⁺ CD8T","z":0.72},{"g":"CX3CR1","c":"CRTAM⁺ CD8T","z":0},{"g":"ZEB2","c":"CRTAM⁺ CD8T","z":-0.11},{"g":"ARHGAP26","c":"CRTAM⁺ CD8T","z":-0.19},{"g":"ARHGAP31","c":"CRTAM⁺ CD8T","z":-0.08},{"g":"GNLY","c":"CRTAM⁺ CD8T","z":0.09},{"g":"GZMH","c":"CRTAM⁺ CD8T","z":-0.06},{"g":"STMN1","c":"CRTAM⁺ CD8T","z":0.4},{"g":"HMGB2","c":"CRTAM⁺ CD8T","z":0.37},{"g":"TUBA1B","c":"CRTAM⁺ CD8T","z":0.17},{"g":"TUBB","c":"CRTAM⁺ CD8T","z":0.09},{"g":"PCLAF","c":"CRTAM⁺ CD8T","z":0.05},{"g":"PCNA","c":"CRTAM⁺ CD8T","z":0.12},{"g":"DUT","c":"CRTAM⁺ CD8T","z":0.12},{"g":"TOP2A","c":"CRTAM⁺ CD8T","z":0.08},{"g":"TPX2","c":"CRTAM⁺ CD8T","z":0.02},{"g":"CCR7","c":"CRTAM⁺ CD8T","z":-0.07},{"g":"MYC","c":"CRTAM⁺ CD8T","z":0.03},{"g":"LEF1","c":"CRTAM⁺ CD8T","z":-0.18},{"g":"TCF7","c":"CRTAM⁺ CD8T","z":0.26},{"g":"SOX13","c":"CRTAM⁺ CD8T","z":-0.13},{"g":"BLK","c":"CRTAM⁺ CD8T","z":-0.1},{"g":"KLRB1","c":"CRTAM⁺ CD8T","z":-0.18},{"g":"NCR1","c":"CRTAM⁺ CD8T","z":0.07},{"g":"ENSSSCG00000000639","c":"CRTAM⁺ CD8T","z":-0.22},{"g":"PDGFD","c":"CRTAM⁺ CD8T","z":-0.15},{"g":"EOMES","c":"CRTAM⁺ CD8T","z":0.22},{"g":"FCER1G","c":"CRTAM⁺ CD8T","z":0.45},{"g":"TYROBP","c":"CRTAM⁺ CD8T","z":-0.04},{"g":"CXCR6","c":"CRTAM⁺ CD8T","z":-0.05},{"g":"GZMK","c":"CRTAM⁺ CD8T","z":-0.07},{"g":"TNFSF9","c":"CRTAM⁺ CD8T","z":-0.08},{"g":"FGL2","c":"CRTAM⁺ CD8T","z":0.23},{"g":"IRF8","c":"CRTAM⁺ CD8T","z":0.25},{"g":"CCL4","c":"CRTAM⁺ CD8T","z":0.12},
{"g":"CD3E","c":"CX3CR1⁺ CD8T","z":0.05},{"g":"CD4","c":"CX3CR1⁺ CD8T","z":-0.1},{"g":"CD8A","c":"CX3CR1⁺ CD8T","z":0.47},{"g":"THEMIS","c":"CX3CR1⁺ CD8T","z":0.7},{"g":"BCL11B","c":"CX3CR1⁺ CD8T","z":0.9},{"g":"CRTAM","c":"CX3CR1⁺ CD8T","z":-0.37},{"g":"XCL1","c":"CX3CR1⁺ CD8T","z":-0.25},{"g":"CX3CR1","c":"CX3CR1⁺ CD8T","z":0.72},{"g":"ZEB2","c":"CX3CR1⁺ CD8T","z":1},{"g":"ARHGAP26","c":"CX3CR1⁺ CD8T","z":1},{"g":"ARHGAP31","c":"CX3CR1⁺ CD8T","z":1},{"g":"GNLY","c":"CX3CR1⁺ CD8T","z":-0.42},{"g":"GZMH","c":"CX3CR1⁺ CD8T","z":-0.06},{"g":"STMN1","c":"CX3CR1⁺ CD8T","z":-0.52},{"g":"HMGB2","c":"CX3CR1⁺ CD8T","z":-0.61},{"g":"TUBA1B","c":"CX3CR1⁺ CD8T","z":-0.65},{"g":"TUBB","c":"CX3CR1⁺ CD8T","z":-0.13},{"g":"PCLAF","c":"CX3CR1⁺ CD8T","z":-0.09},{"g":"PCNA","c":"CX3CR1⁺ CD8T","z":-0.23},{"g":"DUT","c":"CX3CR1⁺ CD8T","z":-0.16},{"g":"TOP2A","c":"CX3CR1⁺ CD8T","z":-0.01},{"g":"TPX2","c":"CX3CR1⁺ CD8T","z":0.14},{"g":"CCR7","c":"CX3CR1⁺ CD8T","z":-0.33},{"g":"MYC","c":"CX3CR1⁺ CD8T","z":-0.35},{"g":"LEF1","c":"CX3CR1⁺ CD8T","z":0.07},{"g":"TCF7","c":"CX3CR1⁺ CD8T","z":-0.18},{"g":"SOX13","c":"CX3CR1⁺ CD8T","z":-0.15},{"g":"BLK","c":"CX3CR1⁺ CD8T","z":-0.19},{"g":"KLRB1","c":"CX3CR1⁺ CD8T","z":-0.6},{"g":"NCR1","c":"CX3CR1⁺ CD8T","z":-0.57},{"g":"ENSSSCG00000000639","c":"CX3CR1⁺ CD8T","z":-0.34},{"g":"PDGFD","c":"CX3CR1⁺ CD8T","z":0.12},{"g":"EOMES","c":"CX3CR1⁺ CD8T","z":-0.29},{"g":"FCER1G","c":"CX3CR1⁺ CD8T","z":-0.6},{"g":"TYROBP","c":"CX3CR1⁺ CD8T","z":-0.31},{"g":"CXCR6","c":"CX3CR1⁺ CD8T","z":-0.21},{"g":"GZMK","c":"CX3CR1⁺ CD8T","z":-0.31},{"g":"TNFSF9","c":"CX3CR1⁺ CD8T","z":-0.41},{"g":"FGL2","c":"CX3CR1⁺ CD8T","z":-0.61},{"g":"IRF8","c":"CX3CR1⁺ CD8T","z":-0.47},{"g":"CCL4","c":"CX3CR1⁺ CD8T","z":-0.58},
{"g":"CD3E","c":"GNLY⁺ CD8T","z":0},{"g":"CD4","c":"GNLY⁺ CD8T","z":-0.17},{"g":"CD8A","c":"GNLY⁺ CD8T","z":0.62},{"g":"THEMIS","c":"GNLY⁺ CD8T","z":-0.11},{"g":"BCL11B","c":"GNLY⁺ CD8T","z":-0.08},{"g":"CRTAM","c":"GNLY⁺ CD8T","z":0},{"g":"XCL1","c":"GNLY⁺ CD8T","z":0},{"g":"CX3CR1","c":"GNLY⁺ CD8T","z":0.56},{"g":"ZEB2","c":"GNLY⁺ CD8T","z":0.42},{"g":"ARHGAP26","c":"GNLY⁺ CD8T","z":0.2},{"g":"ARHGAP31","c":"GNLY⁺ CD8T","z":0.19},{"g":"GNLY","c":"GNLY⁺ CD8T","z":1},{"g":"GZMH","c":"GNLY⁺ CD8T","z":0.9},{"g":"STMN1","c":"GNLY⁺ CD8T","z":0.03},{"g":"HMGB2","c":"GNLY⁺ CD8T","z":0.12},{"g":"TUBA1B","c":"GNLY⁺ CD8T","z":-0.05},{"g":"TUBB","c":"GNLY⁺ CD8T","z":0.03},{"g":"PCLAF","c":"GNLY⁺ CD8T","z":0},{"g":"PCNA","c":"GNLY⁺ CD8T","z":-0.04},{"g":"DUT","c":"GNLY⁺ CD8T","z":0},{"g":"TOP2A","c":"GNLY⁺ CD8T","z":0.02},{"g":"TPX2","c":"GNLY⁺ CD8T","z":0.01},{"g":"CCR7","c":"GNLY⁺ CD8T","z":-0.33},{"g":"MYC","c":"GNLY⁺ CD8T","z":-0.28},{"g":"LEF1","c":"GNLY⁺ CD8T","z":-0.3},{"g":"TCF7","c":"GNLY⁺ CD8T","z":-0.37},{"g":"SOX13","c":"GNLY⁺ CD8T","z":-0.17},{"g":"BLK","c":"GNLY⁺ CD8T","z":-0.21},{"g":"KLRB1","c":"GNLY⁺ CD8T","z":-0.2},{"g":"NCR1","c":"GNLY⁺ CD8T","z":-0.03},{"g":"ENSSSCG00000000639","c":"GNLY⁺ CD8T","z":-0.13},{"g":"PDGFD","c":"GNLY⁺ CD8T","z":-0.18},{"g":"EOMES","c":"GNLY⁺ CD8T","z":-0.14},{"g":"FCER1G","c":"GNLY⁺ CD8T","z":0.27},{"g":"TYROBP","c":"GNLY⁺ CD8T","z":0},{"g":"CXCR6","c":"GNLY⁺ CD8T","z":-0.18},{"g":"GZMK","c":"GNLY⁺ CD8T","z":-0.3},{"g":"TNFSF9","c":"GNLY⁺ CD8T","z":-0.33},{"g":"FGL2","c":"GNLY⁺ CD8T","z":0.3},{"g":"IRF8","c":"GNLY⁺ CD8T","z":-0.07},{"g":"CCL4","c":"GNLY⁺ CD8T","z":0.12},
{"g":"CD3E","c":"Proliferating CD8T","z":0.66},{"g":"CD4","c":"Proliferating CD8T","z":-0.03},{"g":"CD8A","c":"Proliferating CD8T","z":0.77},{"g":"THEMIS","c":"Proliferating CD8T","z":-0.12},{"g":"BCL11B","c":"Proliferating CD8T","z":-0.22},{"g":"CRTAM","c":"Proliferating CD8T","z":0.61},{"g":"XCL1","c":"Proliferating CD8T","z":-0.14},{"g":"CX3CR1","c":"Proliferating CD8T","z":0.21},{"g":"ZEB2","c":"Proliferating CD8T","z":-0.01},{"g":"ARHGAP26","c":"Proliferating CD8T","z":-0.1},{"g":"ARHGAP31","c":"Proliferating CD8T","z":-0.08},{"g":"GNLY","c":"Proliferating CD8T","z":0.26},{"g":"GZMH","c":"Proliferating CD8T","z":1},{"g":"STMN1","c":"Proliferating CD8T","z":0.56},{"g":"HMGB2","c":"Proliferating CD8T","z":0.66},{"g":"TUBA1B","c":"Proliferating CD8T","z":0.46},{"g":"TUBB","c":"Proliferating CD8T","z":0.78},{"g":"PCLAF","c":"Proliferating CD8T","z":1},{"g":"PCNA","c":"Proliferating CD8T","z":0.5},{"g":"DUT","c":"Proliferating CD8T","z":1},{"g":"TOP2A","c":"Proliferating CD8T","z":0.85},{"g":"TPX2","c":"Proliferating CD8T","z":0.63},{"g":"CCR7","c":"Proliferating CD8T","z":-0.14},{"g":"MYC","c":"Proliferating CD8T","z":0.01},{"g":"LEF1","c":"Proliferating CD8T","z":-0.22},{"g":"TCF7","c":"Proliferating CD8T","z":-0.14},{"g":"SOX13","c":"Proliferating CD8T","z":-0.15},{"g":"BLK","c":"Proliferating CD8T","z":-0.19},{"g":"KLRB1","c":"Proliferating CD8T","z":-0.61},{"g":"NCR1","c":"Proliferating CD8T","z":-0.61},{"g":"ENSSSCG00000000639","c":"Proliferating CD8T","z":-0.46},{"g":"PDGFD","c":"Proliferating CD8T","z":-0.26},{"g":"EOMES","c":"Proliferating CD8T","z":0.03},{"g":"FCER1G","c":"Proliferating CD8T","z":-0.47},{"g":"TYROBP","c":"Proliferating CD8T","z":-0.26},{"g":"CXCR6","c":"Proliferating CD8T","z":-0.13},{"g":"GZMK","c":"Proliferating CD8T","z":0.1},{"g":"TNFSF9","c":"Proliferating CD8T","z":-0.11},{"g":"FGL2","c":"Proliferating CD8T","z":-0.4},{"g":"IRF8","c":"Proliferating CD8T","z":-0.08},{"g":"CCL4","c":"Proliferating CD8T","z":0.15},
{"g":"CD3E","c":"Naive/CM CD4T","z":0.46},{"g":"CD4","c":"Naive/CM CD4T","z":0.88},{"g":"CD8A","c":"Naive/CM CD4T","z":-0.28},{"g":"THEMIS","c":"Naive/CM CD4T","z":-0.16},{"g":"BCL11B","c":"Naive/CM CD4T","z":-0.22},{"g":"CRTAM","c":"Naive/CM CD4T","z":-0.14},{"g":"XCL1","c":"Naive/CM CD4T","z":-0.24},{"g":"CX3CR1","c":"Naive/CM CD4T","z":-0.2},{"g":"ZEB2","c":"Naive/CM CD4T","z":-0.3},{"g":"ARHGAP26","c":"Naive/CM CD4T","z":-0.27},{"g":"ARHGAP31","c":"Naive/CM CD4T","z":-0.22},{"g":"GNLY","c":"Naive/CM CD4T","z":-0.5},{"g":"GZMH","c":"Naive/CM CD4T","z":-0.04},{"g":"STMN1","c":"Naive/CM CD4T","z":0.15},{"g":"HMGB2","c":"Naive/CM CD4T","z":0.45},{"g":"TUBA1B","c":"Naive/CM CD4T","z":0.27},{"g":"TUBB","c":"Naive/CM CD4T","z":0.08},{"g":"PCLAF","c":"Naive/CM CD4T","z":0.06},{"g":"PCNA","c":"Naive/CM CD4T","z":0.05},{"g":"DUT","c":"Naive/CM CD4T","z":0.15},{"g":"TOP2A","c":"Naive/CM CD4T","z":0.07},{"g":"TPX2","c":"Naive/CM CD4T","z":-0.02},{"g":"CCR7","c":"Naive/CM CD4T","z":1},{"g":"MYC","c":"Naive/CM CD4T","z":0.5},{"g":"LEF1","c":"Naive/CM CD4T","z":0.42},{"g":"TCF7","c":"Naive/CM CD4T","z":0.61},{"g":"SOX13","c":"Naive/CM CD4T","z":-0.1},{"g":"BLK","c":"Naive/CM CD4T","z":-0.1},{"g":"KLRB1","c":"Naive/CM CD4T","z":-0.63},{"g":"NCR1","c":"Naive/CM CD4T","z":-0.7},{"g":"ENSSSCG00000000639","c":"Naive/CM CD4T","z":-0.47},{"g":"PDGFD","c":"Naive/CM CD4T","z":-0.29},{"g":"EOMES","c":"Naive/CM CD4T","z":-0.34},{"g":"FCER1G","c":"Naive/CM CD4T","z":-0.61},{"g":"TYROBP","c":"Naive/CM CD4T","z":-0.26},{"g":"CXCR6","c":"Naive/CM CD4T","z":-0.18},{"g":"GZMK","c":"Naive/CM CD4T","z":-0.26},{"g":"TNFSF9","c":"Naive/CM CD4T","z":-0.3},{"g":"FGL2","c":"Naive/CM CD4T","z":-0.58},{"g":"IRF8","c":"Naive/CM CD4T","z":-0.38},{"g":"CCL4","c":"Naive/CM CD4T","z":-0.6},
{"g":"CD3E","c":"GdT","z":0.37},{"g":"CD4","c":"GdT","z":-0.14},{"g":"CD8A","c":"GdT","z":-0.55},{"g":"THEMIS","c":"GdT","z":-0.22},{"g":"BCL11B","c":"GdT","z":0.11},{"g":"CRTAM","c":"GdT","z":-0.57},{"g":"XCL1","c":"GdT","z":-0.34},{"g":"CX3CR1","c":"GdT","z":-0.21},{"g":"ZEB2","c":"GdT","z":-0.19},{"g":"ARHGAP26","c":"GdT","z":-0.24},{"g":"ARHGAP31","c":"GdT","z":-0.19},{"g":"GNLY","c":"GdT","z":-0.52},{"g":"GZMH","c":"GdT","z":-0.47},{"g":"STMN1","c":"GdT","z":0.02},{"g":"HMGB2","c":"GdT","z":-0.14},{"g":"TUBA1B","c":"GdT","z":-0.05},{"g":"TUBB","c":"GdT","z":-0.11},{"g":"PCLAF","c":"GdT","z":-0.2},{"g":"PCNA","c":"GdT","z":-0.15},{"g":"DUT","c":"GdT","z":-0.21},{"g":"TOP2A","c":"GdT","z":-0.18},{"g":"TPX2","c":"GdT","z":-0.15},{"g":"CCR7","c":"GdT","z":0.52},{"g":"MYC","c":"GdT","z":0.59},{"g":"LEF1","c":"GdT","z":0.26},{"g":"TCF7","c":"GdT","z":0.38},{"g":"SOX13","c":"GdT","z":1},{"g":"BLK","c":"GdT","z":1},{"g":"KLRB1","c":"GdT","z":-0.65},{"g":"NCR1","c":"GdT","z":-0.75},{"g":"ENSSSCG00000000639","c":"GdT","z":-0.47},{"g":"PDGFD","c":"GdT","z":-0.28},{"g":"EOMES","c":"GdT","z":-0.4},{"g":"FCER1G","c":"GdT","z":-0.66},{"g":"TYROBP","c":"GdT","z":-0.29},{"g":"CXCR6","c":"GdT","z":-0.22},{"g":"GZMK","c":"GdT","z":-0.35},{"g":"TNFSF9","c":"GdT","z":-0.35},{"g":"FGL2","c":"GdT","z":-0.7},{"g":"IRF8","c":"GdT","z":-0.54},{"g":"CCL4","c":"GdT","z":-0.66},
{"g":"CD3E","c":"cNK","z":-0.56},{"g":"CD4","c":"cNK","z":-0.24},{"g":"CD8A","c":"cNK","z":-0.16},{"g":"THEMIS","c":"cNK","z":-0.12},{"g":"BCL11B","c":"cNK","z":-0.12},{"g":"CRTAM","c":"cNK","z":-0.28},{"g":"XCL1","c":"cNK","z":-0.08},{"g":"CX3CR1","c":"cNK","z":-0.07},{"g":"ZEB2","c":"cNK","z":0.03},{"g":"ARHGAP26","c":"cNK","z":0.02},{"g":"ARHGAP31","c":"cNK","z":0.08},{"g":"GNLY","c":"cNK","z":-0.3},{"g":"GZMH","c":"cNK","z":-0.5},{"g":"STMN1","c":"cNK","z":-0.54},{"g":"HMGB2","c":"cNK","z":-0.67},{"g":"TUBA1B","c":"cNK","z":-0.65},{"g":"TUBB","c":"cNK","z":-0.25},{"g":"PCLAF","c":"cNK","z":-0.18},{"g":"PCNA","c":"cNK","z":-0.29},{"g":"DUT","c":"cNK","z":-0.27},{"g":"TOP2A","c":"cNK","z":-0.18},{"g":"TPX2","c":"cNK","z":-0.12},{"g":"CCR7","c":"cNK","z":-0.36},{"g":"MYC","c":"cNK","z":-0.33},{"g":"LEF1","c":"cNK","z":0.01},{"g":"TCF7","c":"cNK","z":-0.15},{"g":"SOX13","c":"cNK","z":-0.11},{"g":"BLK","c":"cNK","z":-0.21},{"g":"KLRB1","c":"cNK","z":0.68},{"g":"NCR1","c":"cNK","z":0.64},{"g":"ENSSSCG00000000639","c":"cNK","z":0.8},{"g":"PDGFD","c":"cNK","z":1},{"g":"EOMES","c":"cNK","z":-0.01},{"g":"FCER1G","c":"cNK","z":-0.14},{"g":"TYROBP","c":"cNK","z":-0.08},{"g":"CXCR6","c":"cNK","z":0.08},{"g":"GZMK","c":"cNK","z":-0.09},{"g":"TNFSF9","c":"cNK","z":-0.24},{"g":"FGL2","c":"cNK","z":-0.07},{"g":"IRF8","c":"cNK","z":-0.22},{"g":"CCL4","c":"cNK","z":-0.37},
{"g":"CD3E","c":"TrNK","z":-0.7},{"g":"CD4","c":"TrNK","z":-0.24},{"g":"CD8A","c":"TrNK","z":-0.31},{"g":"THEMIS","c":"TrNK","z":-0.24},{"g":"BCL11B","c":"TrNK","z":-0.26},{"g":"CRTAM","c":"TrNK","z":0.11},{"g":"XCL1","c":"TrNK","z":0.36},{"g":"CX3CR1","c":"TrNK","z":-0.21},{"g":"ZEB2","c":"TrNK","z":-0.34},{"g":"ARHGAP26","c":"TrNK","z":-0.29},{"g":"ARHGAP31","c":"TrNK","z":-0.19},{"g":"GNLY","c":"TrNK","z":0},{"g":"GZMH","c":"TrNK","z":-0.36},{"g":"STMN1","c":"TrNK","z":0},{"g":"HMGB2","c":"TrNK","z":-0.07},{"g":"TUBA1B","c":"TrNK","z":0.18},{"g":"TUBB","c":"TrNK","z":-0.11},{"g":"PCLAF","c":"TrNK","z":-0.18},{"g":"PCNA","c":"TrNK","z":0.09},{"g":"DUT","c":"TrNK","z":-0.23},{"g":"TOP2A","c":"TrNK","z":-0.18},{"g":"TPX2","c":"TrNK","z":-0.13},{"g":"CCR7","c":"TrNK","z":-0.32},{"g":"MYC","c":"TrNK","z":-0.08},{"g":"LEF1","c":"TrNK","z":-0.28},{"g":"TCF7","c":"TrNK","z":-0.25},{"g":"SOX13","c":"TrNK","z":-0.15},{"g":"BLK","c":"TrNK","z":-0.21},{"g":"KLRB1","c":"TrNK","z":1},{"g":"NCR1","c":"TrNK","z":1},{"g":"ENSSSCG00000000639","c":"TrNK","z":0.9},{"g":"PDGFD","c":"TrNK","z":0.14},{"g":"EOMES","c":"TrNK","z":0.67},{"g":"FCER1G","c":"TrNK","z":0.96},{"g":"TYROBP","c":"TrNK","z":0.78},{"g":"CXCR6","c":"TrNK","z":0.59},{"g":"GZMK","c":"TrNK","z":0.78},{"g":"TNFSF9","c":"TrNK","z":1},{"g":"FGL2","c":"TrNK","z":0.98},{"g":"IRF8","c":"TrNK","z":0.88},{"g":"CCL4","c":"TrNK","z":0.92}
]},"mark":{"type":"rect","stroke":"#9a9a9a","strokeWidth":1},"encoding":{"x":{"field":"g","type":"nominal","scale":{"domain":["CD3E","CD4","CD8A","THEMIS","BCL11B","CRTAM","XCL1","CX3CR1","ZEB2","ARHGAP26","ARHGAP31","GNLY","GZMH","STMN1","HMGB2","TUBA1B","TUBB","PCLAF","PCNA","DUT","TOP2A","TPX2","CCR7","MYC","LEF1","TCF7","SOX13","BLK","KLRB1","NCR1","ENSSSCG00000000639","PDGFD","EOMES","FCER1G","TYROBP","CXCR6","GZMK","TNFSF9","FGL2","IRF8","CCL4"],"padding":0},"axis":{"title":null,"domain":false,"labelAngle":270,"labelAlign":"right","labelBaseline":"middle","tickSize":8,"labelPadding":3}},"y":{"field":"c","type":"nominal","scale":{"domain":["CD4CD8T","CRTAM⁺ CD8T","CX3CR1⁺ CD8T","GNLY⁺ CD8T","Proliferating CD8T","Naive/CM CD4T","GdT","cNK","TrNK"],"padding":0},"axis":{"title":null,"domain":false,"tickSize":8,"labelPadding":3,"labelOffset":{"condition":{"test":"datum.value==='CD4CD8T'","value":1},"value":5},"labelExpr":"replace(datum.label,regexp('^(CRTAM|CX3CR1|GNLY)⁺ '),'')"}},"color":{"field":"z","type":"quantitative","scale":{"domain":[-1,-0.6,-0.3,0,0.27,0.62,0.8,1],"range":["#2C4580","#6298B8","#ACD0DE","#F7F7F7","#F0C0AB","#CB5D57","#A52A33","#5C141F"]},"legend":{"title":"Mean z-score","orient":"none","direction":"horizontal","legendX":-160,"legendY":408,"gradientLength":208,"gradientThickness":31,"gradientStrokeColor":"#1a1a1a","gradientStrokeWidth":2,"values":[-1,0,1],"format":".0f","labelOffset":14,"titleAnchor":"middle","encode":{"labels":{"update":{"align":{"value":"center"}}}}}}}},
{"data":{"values":[{"c":"CRTAM⁺ CD8T","it":"CRTAM⁺"},{"c":"CX3CR1⁺ CD8T","it":"CX3CR1⁺"},{"c":"GNLY⁺ CD8T","it":"GNLY⁺"}]},"mark":{"type":"text","align":"right","baseline":"middle","fontStyle":"italic","dx":-78,"dy":5},"encoding":{"y":{"field":"c","type":"nominal","title":null},"x":{"value":0},"text":{"field":"it"}}}
]}]}]},
{"bounds":"flush","spacing":385,"resolve":{"scale":{"color":"independent","fill":"independent"},"legend":{"color":"independent","fill":"independent"}},"vconcat":[{"width":0,"height":0,"data":{"values":[]},"mark":"point"},{"bounds":"flush","spacing":1343,"resolve":{"scale":{"color":"independent","fill":"independent"},"legend":{"color":"independent","fill":"independent"}},"hconcat":[{"width":0,"height":0,"data":{"values":[]},"mark":"point"},
{"width":245,"height":441,"title":{"text":"(e)","dx":-106,"dy":35,"offset":0},
"layer":[
{"data":{"values":[
{"r":"CD69","s":"Pig","e":12.5},{"r":"CXCR6","s":"Pig","e":10},{"r":"EOMES","s":"Pig","e":12},{"r":"TBX21","s":"Pig","e":8.5},{"r":"ITGA1","s":"Pig","e":3.5},{"r":"ITGA5","s":"Pig","e":3},{"r":"NCAM1","s":"Pig","e":0},{"r":"ITGA2","s":"Pig","e":0.2},
{"r":"CD69","s":"Human","e":8.7},{"r":"CXCR6","s":"Human","e":9.7},{"r":"EOMES","s":"Human","e":9.7},{"r":"TBX21","s":"Human","e":5.5},{"r":"ITGA1","s":"Human","e":1.2},{"r":"ITGA5","s":"Human","e":1.4},{"r":"NCAM1","s":"Human","e":7},{"r":"ITGA2","s":"Human","e":0},
{"r":"CD69","s":"Mouse","e":11.5},{"r":"CXCR6","s":"Mouse","e":14.8},{"r":"EOMES","s":"Mouse","e":0.1},{"r":"TBX21","s":"Mouse","e":12},{"r":"ITGA1","s":"Mouse","e":12},{"r":"ITGA5","s":"Mouse","e":4.7},{"r":"NCAM1","s":"Mouse","e":0.1},{"r":"ITGA2","s":"Mouse","e":4.6}
]},"mark":{"type":"rect"},"encoding":{"x":{"field":"s","type":"nominal","axis":null,"scale":{"domain":["Pig","Human","Mouse"],"paddingInner":0.012,"paddingOuter":0}},"y":{"field":"r","type":"nominal","scale":{"domain":["hdr","CD69","CXCR6","EOMES","TBX21","ITGA1","ITGA5","NCAM1","ITGA2"],"padding":0},"axis":{"title":null,"domain":false,"ticks":false,"labelPadding":5,"labelExpr":"datum.label==='hdr'?'':datum.label"}},"color":{"field":"e","type":"quantitative","scale":{"domain":[0,5,10,15],"range":["#FFFFFF","#F49BA6","#EE5459","#E23520"],"interpolate":"rgb"},"legend":{"title":"Log₂(CPM+1)","titleFontWeight":"bold","orient":"none","direction":"horizontal","legendX":-85,"legendY":450,"gradientLength":123,"gradientThickness":27,"values":[0,5,10,15],"titleAnchor":"middle","encode":{"labels":{"update":{"align":{"value":"center"}}}}}}}},
{"data":{"values":[{"r":"hdr","s":"Pig"},{"r":"hdr","s":"Human"},{"r":"hdr","s":"Mouse"}]},"mark":{"type":"rect","height":28,"yOffset":9,"stroke":"#2d2d2d","strokeWidth":1.5},"encoding":{"x":{"field":"s","type":"nominal","axis":null},"y":{"field":"r","type":"nominal","title":null},"fill":{"field":"s","type":"nominal","legend":null,"scale":{"domain":["Pig","Human","Mouse"],"range":["#5AAE2C","#EE7A2D","#C8312D"]}}}},
{"data":{"values":[{"r":"hdr","s":"Pig"},{"r":"hdr","s":"Human"},{"r":"hdr","s":"Mouse"}]},"mark":{"type":"text","fontWeight":"bold","fontSize":21,"dy":9,"baseline":"middle"},"encoding":{"x":{"field":"s","type":"nominal","axis":null},"y":{"field":"r","type":"nominal","title":null},"text":{"field":"s"}}}
]}]}]}
]}
